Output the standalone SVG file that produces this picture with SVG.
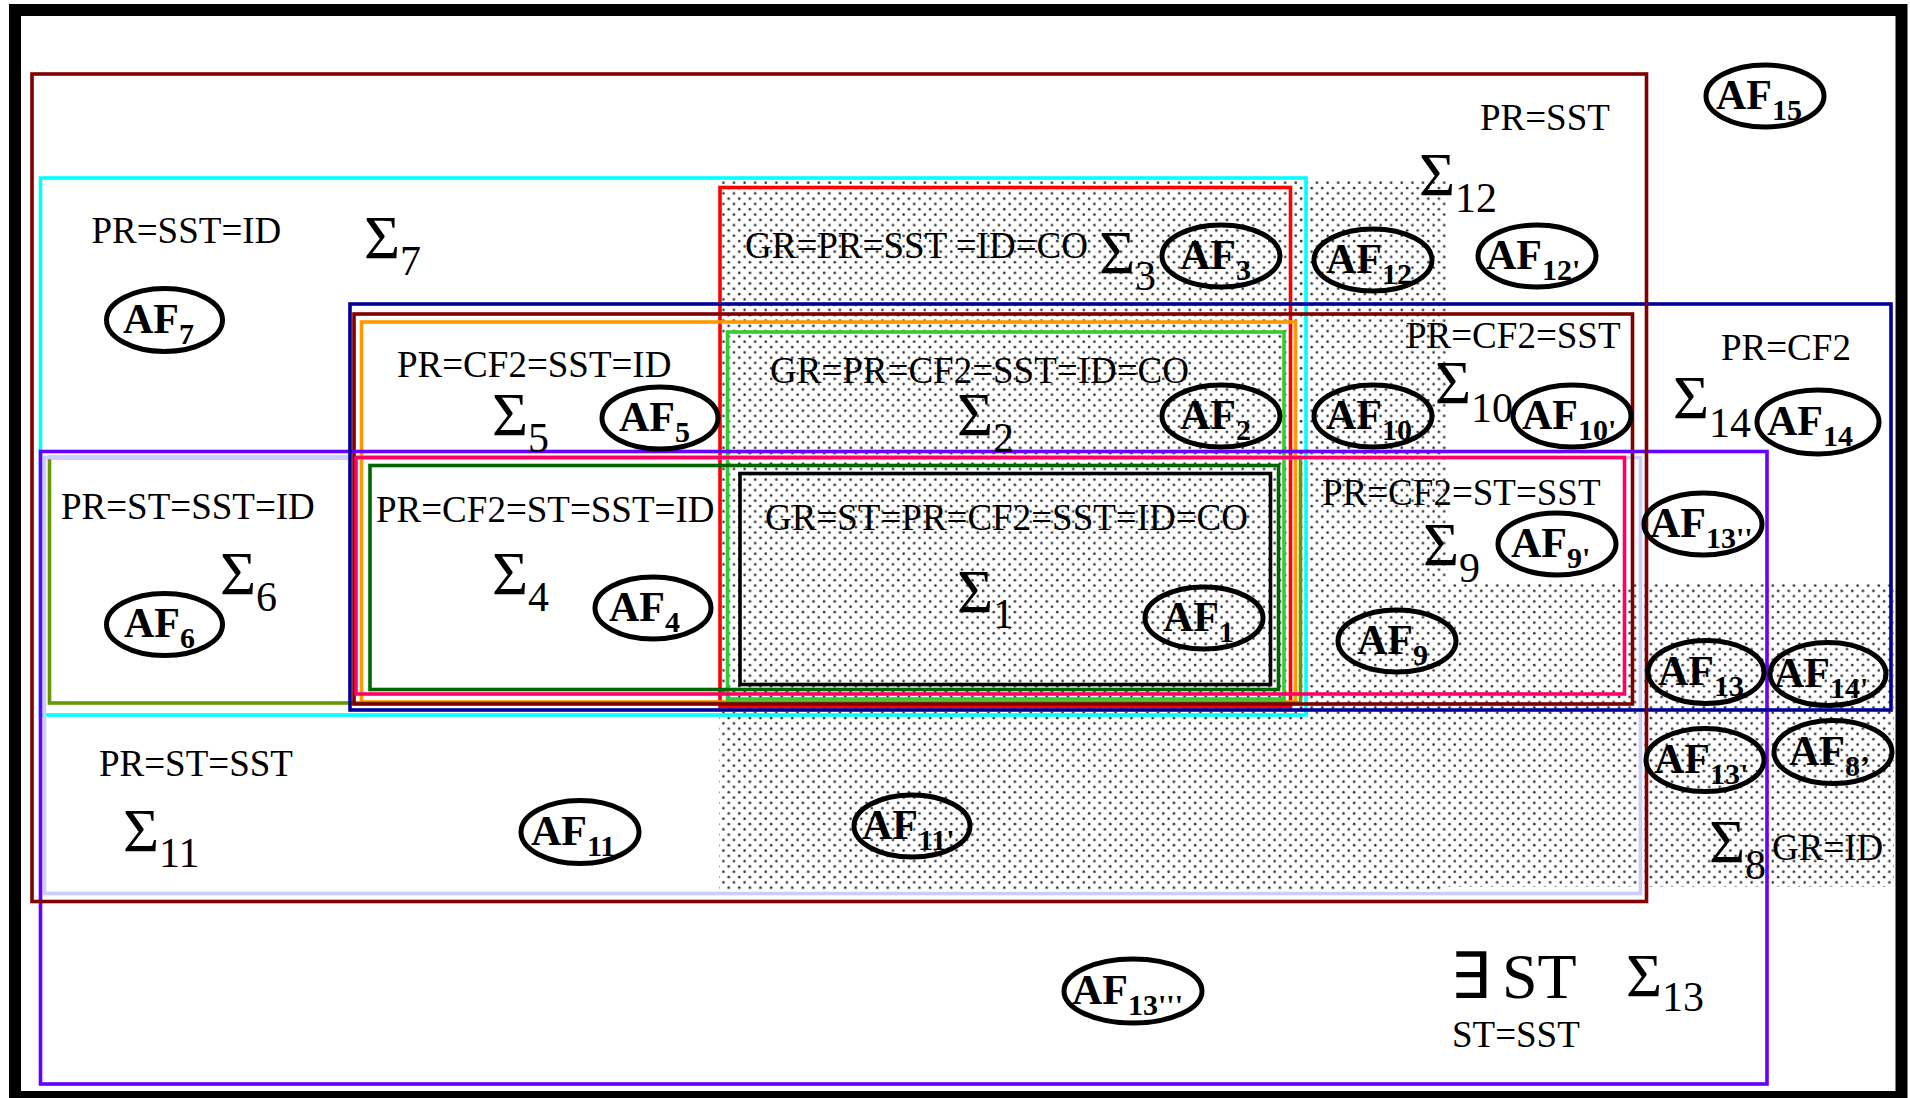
<svg xmlns="http://www.w3.org/2000/svg" width="1910" height="1098" viewBox="0 0 1910 1098">
<defs>
<pattern id="dots" width="10.6" height="10.6" patternUnits="userSpaceOnUse">
<circle cx="2.6" cy="2.6" r="1.3" fill="#333"/>
<circle cx="7.9" cy="7.9" r="1.3" fill="#333"/>
</pattern>
<style>
.lbl{font-family:"Liberation Serif","Times New Roman",serif;font-size:37px;fill:#000}
.sig{font-family:"Liberation Serif","Times New Roman",serif;font-size:62px;fill:#000}
.sub{font-size:42px}
.af{font-family:"Liberation Serif","Times New Roman",serif;font-weight:bold;font-size:42px;fill:#000}
.afs{font-size:30px}
.ell{fill:none;stroke:#000;stroke-width:5}
.box{fill:none;stroke-width:3.6}
.dot{fill:url(#dots);stroke:none}
</style>
</defs>
<rect x="0" y="0" width="1910" height="1098" fill="#fff"/>
<g id="shading">
<rect class="dot" x="719" y="180" width="729" height="710"/>
<rect class="dot" x="1448" y="582" width="446" height="305"/>
</g>
<rect id="frame" x="15" y="10" width="1886.5" height="1087" fill="none" stroke="#000" stroke-width="12"/>
<g id="sigma7"><rect class="box" x="40.5" y="178" width="1265.5" height="537" stroke="#00FFFF"/></g>
<g id="sigma3"><rect class="box" x="720" y="187.5" width="570.5" height="519" stroke="#FF0000"/></g>
<g id="sigma5"><rect class="box" x="361.5" y="322" width="934" height="380" stroke="#FF9900"/></g>
<g id="sigma6"><rect class="box" x="49.5" y="457.5" width="1251" height="245.5" stroke="#669900"/></g>
<g id="sigma2"><rect class="box" x="727.5" y="332" width="556.5" height="367" stroke="#33CC33"/></g>
<g id="sigma11"><rect class="box" x="44.5" y="457.5" width="1596" height="436" stroke="#CCCCFF"/></g>
<g id="sigma10"><rect class="box" x="354" y="314" width="1278.5" height="390" stroke="#800000"/></g>
<g id="sigma13"><rect class="box" x="40.5" y="451.5" width="1726.5" height="632.5" stroke="#6600FF"/></g>
<g id="sigma14"><rect class="box" x="350" y="304" width="1541" height="406" stroke="#000099"/></g>
<g id="sigma12"><rect class="box" x="32" y="74" width="1614.5" height="827.5" stroke="#800000" stroke-width="4"/></g>
<g id="sigma9"><rect class="box" x="356" y="457.5" width="1268.5" height="236.5" stroke="#FF0066"/></g>
<g id="sigma4"><rect class="box" x="370" y="465.5" width="908.5" height="224" stroke="#006600"/></g>
<g id="sigma1"><rect class="box" x="740" y="473.5" width="530.5" height="211" stroke="#000"/></g>

<g id="labels">
<text class="lbl" x="91.5" y="243">PR=SST=ID</text>
<text class="sig" x="364" y="258">Σ<tspan class="sub" dy="17">7</tspan></text>
<text class="lbl" x="745" y="258">GR=PR=SST =ID=CO</text>
<text class="sig" x="1099" y="273">Σ<tspan class="sub" dy="17">3</tspan></text>
<text class="lbl" x="1480" y="130">PR=SST</text>
<text class="sig" x="1419" y="195">Σ<tspan class="sub" dy="17">12</tspan></text>
<text class="lbl" x="397" y="377">PR=CF2=SST=ID</text>
<text class="sig" x="492" y="435">Σ<tspan class="sub" dy="17">5</tspan></text>
<text class="lbl" x="770" y="383">GR=PR=CF2=SST=ID=CO</text>
<text class="sig" x="957" y="435">Σ<tspan class="sub" dy="17">2</tspan></text>
<text class="lbl" x="1406" y="348">PR=CF2=SST</text>
<text class="sig" x="1435" y="403">Σ<tspan class="sub" dy="19">10</tspan></text>
<text class="lbl" x="1721" y="360">PR=CF2</text>
<text class="sig" x="1673" y="418">Σ<tspan class="sub" dy="19">14</tspan></text>
<text class="lbl" x="61" y="519">PR=ST=SST=ID</text>
<text class="sig" x="220" y="594">Σ<tspan class="sub" dy="17">6</tspan></text>
<text class="lbl" x="376" y="522">PR=CF2=ST=SST=ID</text>
<text class="sig" x="492" y="594">Σ<tspan class="sub" dy="17">4</tspan></text>
<text class="lbl" x="765" y="530">GR=ST=PR=CF2=SST=ID=CO</text>
<text class="sig" x="957" y="612">Σ<tspan class="sub" dy="16">1</tspan></text>
<text class="lbl" x="1322" y="505">PR=CF2=ST=SST</text>
<text class="sig" x="1423" y="565">Σ<tspan class="sub" dy="17">9</tspan></text>
<text class="lbl" x="99" y="776">PR=ST=SST</text>
<text class="sig" x="123" y="851">Σ<tspan class="sub" dy="16">11</tspan></text>
<text class="sig" x="1709" y="862">Σ<tspan class="sub" dy="17">8</tspan></text>
<text class="lbl" x="1772" y="860">GR=ID</text>
<text class="sig" x="1450" y="998" font-family="Liberation Serif, DejaVu Serif, serif" style="font-size:64px">∃ <tspan x="1502">ST</tspan></text>
<text class="sig" x="1626" y="996">Σ<tspan class="sub" dy="15">13</tspan></text>
<text class="lbl" x="1452" y="1047">ST=SST</text>
</g>

<g id="AF15"><ellipse class="ell" cx="1765" cy="96" rx="59" ry="31"/><text class="af" x="1716" y="109">AF<tspan class="afs" dy="11">15</tspan></text></g>
<g id="AF3"><ellipse class="ell" cx="1221" cy="256" rx="59" ry="31"/><text class="af" x="1180" y="269">AF<tspan class="afs" dy="11">3</tspan></text></g>
<g id="AF12"><ellipse class="ell" cx="1373" cy="260" rx="59" ry="31"/><text class="af" x="1326" y="273">AF<tspan class="afs" dy="11">12</tspan></text></g>
<g id="AF12p"><ellipse class="ell" cx="1537" cy="256" rx="59" ry="31"/><text class="af" x="1486" y="269">AF<tspan class="afs" dy="11">12'</tspan></text></g>
<g id="AF7"><ellipse class="ell" cx="164.5" cy="320" rx="58" ry="31.5"/><text class="af" x="123" y="333">AF<tspan class="afs" dy="11">7</tspan></text></g>
<g id="AF5"><ellipse class="ell" cx="660" cy="418" rx="58" ry="31"/><text class="af" x="619" y="431">AF<tspan class="afs" dy="11">5</tspan></text></g>
<g id="AF2"><ellipse class="ell" cx="1221" cy="416" rx="59" ry="31"/><text class="af" x="1180" y="429">AF<tspan class="afs" dy="11">2</tspan></text></g>
<g id="AF10"><ellipse class="ell" cx="1373" cy="416" rx="59" ry="31"/><text class="af" x="1326" y="429">AF<tspan class="afs" dy="11">10</tspan></text></g>
<g id="AF10p"><ellipse class="ell" cx="1572" cy="416" rx="59" ry="31"/><text class="af" x="1522" y="429">AF<tspan class="afs" dy="11">10'</tspan></text></g>
<g id="AF14"><ellipse class="ell" cx="1818" cy="422" rx="61" ry="32"/><text class="af" x="1767" y="435">AF<tspan class="afs" dy="11">14</tspan></text></g>
<g id="AF13pp"><ellipse class="ell" cx="1703" cy="524" rx="59" ry="31"/><text class="af" x="1650" y="537">AF<tspan class="afs" dy="11">13''</tspan></text></g>
<g id="AF9p"><ellipse class="ell" cx="1557" cy="544" rx="59" ry="31"/><text class="af" x="1511" y="557">AF<tspan class="afs" dy="11">9'</tspan></text></g>
<g id="AF6"><ellipse class="ell" cx="164.5" cy="624.5" rx="58" ry="31"/><text class="af" x="124" y="637">AF<tspan class="afs" dy="11">6</tspan></text></g>
<g id="AF4"><ellipse class="ell" cx="653" cy="608" rx="58" ry="31"/><text class="af" x="609" y="621">AF<tspan class="afs" dy="11">4</tspan></text></g>
<g id="AF1"><ellipse class="ell" cx="1204" cy="618" rx="59" ry="31"/><text class="af" x="1163" y="631">AF<tspan class="afs" dy="11">1</tspan></text></g>
<g id="AF9"><ellipse class="ell" cx="1397" cy="641" rx="59" ry="31"/><text class="af" x="1357" y="654">AF<tspan class="afs" dy="11">9</tspan></text></g>
<g id="AF13"><ellipse class="ell" cx="1706" cy="672" rx="58" ry="31.5"/><text class="af" x="1658" y="685">AF<tspan class="afs" dy="11">13</tspan></text></g>
<g id="AF14p"><ellipse class="ell" cx="1828" cy="674" rx="58" ry="31.5"/><text class="af" x="1774" y="687">AF<tspan class="afs" dy="11">14'</tspan></text></g>
<g id="AF13p"><ellipse class="ell" cx="1705" cy="760" rx="59" ry="31.5"/><text class="af" x="1654" y="773">AF<tspan class="afs" dy="11">13'</tspan></text></g>
<g id="AF8p"><ellipse class="ell" cx="1833" cy="752" rx="59" ry="31.5"/><text class="af" x="1789" y="765">AF<tspan class="afs" dy="11">8’</tspan></text></g>
<g id="AF11"><ellipse class="ell" cx="580" cy="832" rx="59" ry="31.5"/><text class="af" x="531" y="845">AF<tspan class="afs" dy="11">11</tspan></text></g>
<g id="AF11p"><ellipse class="ell" cx="912" cy="826" rx="58" ry="31"/><text class="af" x="862" y="839">AF<tspan class="afs" dy="11">11'</tspan></text></g>
<g id="AF13ppp"><ellipse class="ell" cx="1133" cy="991" rx="69" ry="32"/><text class="af" x="1072" y="1004">AF<tspan class="afs" dy="11">13'''</tspan></text></g>
<g id="connectors"/>
</svg>
